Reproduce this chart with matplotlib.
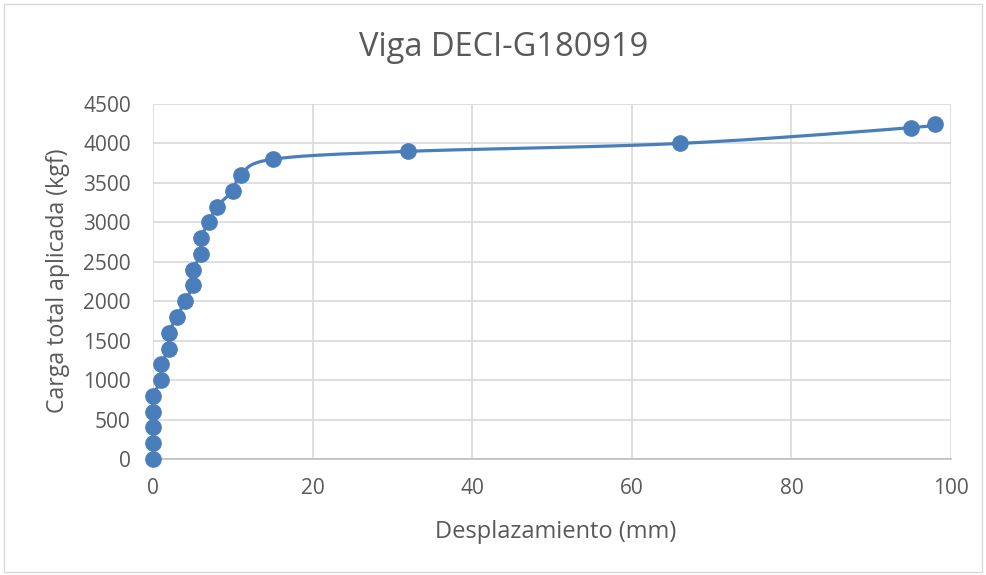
import numpy as np
import matplotlib.pyplot as plt
from matplotlib.patches import Rectangle

plt.rcParams["font.family"] = ["Open Sans", "DejaVu Sans"]

# desplazamiento (mm) vs carga total aplicada (kgf)
desp = [0, 0, 0, 0, 0, 1, 1, 2, 2, 3, 4, 5, 5, 6, 6, 7, 8, 10, 11, 15, 32, 66, 95, 98]
carga = [0, 200, 400, 600, 800, 1000, 1200, 1400, 1600, 1800, 2000, 2200, 2400,
         2600, 2800, 3000, 3200, 3400, 3600, 3800, 3900, 4000, 4200, 4250]

XMAX, YMAX = 100, 4500
BLUE = "#4a7ebb"
GRID = "#d9d9d9"
TXT = "#595959"


def excel_smooth(x, y, ax, n=30):
    """Bezier smoothing in screen space, similar to Excel's smoothed line."""
    pts = ax.transData.transform(np.column_stack([x, y]))
    out = [pts[0]]
    m = len(pts)
    for i in range(m - 1):
        p0 = pts[max(i - 1, 0)]
        p1, p2 = pts[i], pts[i + 1]
        p3 = pts[min(i + 2, m - 1)]
        c1 = p1 + (p2 - p0) / 6.0
        c2 = p2 - (p3 - p1) / 6.0
        t = np.linspace(0, 1, n)[1:, None]
        seg = ((1 - t) ** 3 * p1 + 3 * (1 - t) ** 2 * t * c1
               + 3 * (1 - t) * t ** 2 * c2 + t ** 3 * p2)
        out.extend(seg)
    out = np.array(out)
    return ax.transData.inverted().transform(out).T


W, H = 987, 575
fig = plt.figure(figsize=(W / 100, H / 100), dpi=100)
fig.patches.append(Rectangle((4 / W, 3 / H), 978 / W, 568 / H,
                             transform=fig.transFigure, fill=False,
                             edgecolor=GRID, lw=1))
ax = fig.add_axes([153 / W, 1 - 459 / H, (951 - 153) / W, (459 - 104) / H])
ax.set_xlim(0, XMAX)
ax.set_ylim(0, YMAX)
ax.set_xticks(np.arange(0, 101, 20))
ax.set_yticks(np.arange(0, 4501, 500))
ax.grid(True, color=GRID, lw=1.2)
ax.set_axisbelow(True)
for s in ax.spines.values():
    s.set_visible(False)
ax.spines["bottom"].set_visible(True)
ax.spines["bottom"].set_color("#bfbfbf")
ax.spines["bottom"].set_linewidth(1.2)
ax.tick_params(length=0, labelsize=15, labelcolor=TXT)
ax.tick_params(axis="x", pad=14)
ax.tick_params(axis="y", pad=16)

sx, sy = excel_smooth(desp, carga, ax)
ax.plot(sx, sy, color=BLUE, lw=2.3, solid_capstyle="round", clip_on=False, zorder=3)
ax.plot(desp, carga, "o", color=BLUE, ms=11, clip_on=False, zorder=4)

fig.text(556 / W, 1 - 532 / H, "Desplazamiento (mm)", fontsize=17, color=TXT,
         ha="center", va="center")
fig.text(58 / W, 1 - 281 / H, "Carga total aplicada (kgf)", fontsize=16.7, color=TXT,
         ha="center", va="center", rotation=90)
fig.text(504 / W, 1 - 48 / H, "Viga DECI-G180919", fontsize=23.5, color=TXT,
         ha="center", va="center")

fig.savefig("out.png", dpi=100)
